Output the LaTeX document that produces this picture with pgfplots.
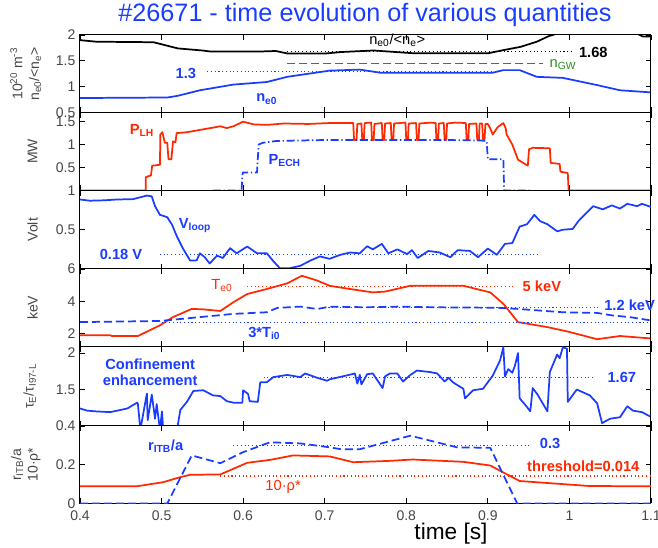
\documentclass[border=0pt]{standalone}
\usepackage{fontspec}
\setmainfont{Liberation Sans}
\usepackage{pgfplots}
\pgfplotsset{compat=1.18}
\definecolor{blueL}{RGB}{26,60,255}
\definecolor{redL}{RGB}{255,40,0}
\definecolor{greenL}{RGB}{40,140,30}
\definecolor{tickgray}{RGB}{70,70,70}
\tikzset{
  lab/.style={font=\fontsize{11}{12}\selectfont\bfseries},
  labr/.style={font=\fontsize{11}{12}\selectfont},
}
\pgfplotsset{
  panel/.style={
    scale only axis, width=428.25pt, anchor=north west,
    xmin=0.4, xmax=1.1,
    xtick={0.4,0.5,0.6,0.7,0.8,0.9,1.0,1.1}, xticklabels={},
    tick align=inside, major tick length=4pt,
    tick style={black, line width=0.6pt},
    axis line style={line width=0.75pt},
    clip mode=individual,
    yticklabel style={font=\fontsize{10.5}{12}\selectfont, text=tickgray},
    xticklabel style={font=\fontsize{10.5}{12}\selectfont, text=tickgray, yshift=-2pt},
    ylabel style={font=\fontsize{10.5}{12.5}\selectfont, text=tickgray,
      at={(axis description cs:-0.083,0.5)}, anchor=center, align=center},
    every axis plot/.append style={line width=1.3pt, line join=round},
  },
  dots/.style={line width=0.8pt, dash pattern=on 0.8pt off 2pt},
  dash/.style={dash pattern=on 6pt off 3pt},
}
\begin{document}
\begin{tikzpicture}
\useasboundingbox (0,0) rectangle (493.5pt,411pt);
\node[text=blueL, font=\fontsize{18.9}{22}\selectfont] at (273.75pt,399.75pt) {\#26671 - time evolution of various quantities};

% panel 1: density
\begin{axis}[panel, at={(60pt,384.75pt)}, height=58.125pt,
  ymin=0.5, ymax=2, ytick={0.5,1,1.5,2}, yticklabels={0.5,1,1.5,2},
  ylabel={10\textsuperscript{20} m\textsuperscript{-3}\\n\textsubscript{e0}/<n\textsubscript{e}>},
  ylabel style={at={(axis description cs:-0.095,0.5)}}]
\addplot[black] coordinates {(0.4,1.90)(0.42,1.87)(0.49,1.86)(0.51,1.78)(0.52,1.74)(0.55,1.70)(0.56,1.68)(0.59,1.68)(0.62,1.68)(0.64,1.69)(0.655,1.64)(0.70,1.64)(0.72,1.67)(0.76,1.70)(0.81,1.645)(0.90,1.645)(0.92,1.71)(0.94,1.77)(0.96,1.87)(0.975,1.98)(0.99,2.05)(1.08,2.05)(1.09,1.97)(1.1,1.97)};
\addplot[black, dots] coordinates {(0.654,1.68)(1.005,1.68)};
\addplot[greenL, dash] coordinates {(0.654,1.45)(0.968,1.45)};
\addplot[blueL] coordinates {(0.4,0.78)(0.507,0.79)(0.519,0.82)(0.547,0.93)(0.588,1.04)(0.629,1.09)(0.654,1.19)(0.706,1.31)(0.743,1.33)(0.768,1.27)(0.906,1.27)(0.919,1.32)(0.939,1.32)(0.96,1.19)(0.992,1.17)(1.034,1.03)(1.062,0.93)(1.099,0.89)};
\addplot[blueL, dots] coordinates {(0.556,1.3)(0.906,1.3)};
\node[labr] at (axis cs:0.789,1.90) {n\textsubscript{e0}/<n\textsubscript{e}>};
\node[lab, anchor=west] at (axis cs:1.006,1.67) {1.68};
\node[labr, text=greenL, anchor=west] at (axis cs:0.970,1.42) {n\textsubscript{GW}};
\node[lab, text=blueL, anchor=east] at (axis cs:0.548,1.26) {1.3};
\node[lab, text=blueL] at (axis cs:0.629,0.76) {n\textsubscript{e0}};
\end{axis}

% panel 2: power
\begin{axis}[panel, at={(60pt,326.625pt)}, height=58.5pt,
  ymin=0, ymax=1.7, ytick={0,0.5,1,1.5}, yticklabels={,0.5,1,1.5},
  ylabel={MW}]
\addplot[redL] coordinates {(0.4,0)(0.4805,0)(0.4805,0.29)(0.487,0.33)(0.4885,0.54)(0.498,0.56)(0.4985,1.22)(0.501,1.27)(0.504,1.04)(0.507,1.04)(0.5085,0.68)(0.512,0.68)(0.514,1.07)(0.517,1.05)(0.5185,1.25)(0.531,1.27)(0.547,1.32)(0.563,1.37)(0.572,1.40)(0.58,1.36)(0.588,1.40)(0.600,1.50)(0.613,1.44)(0.629,1.43)(0.65,1.46)(0.68,1.45)(0.706,1.47)(0.72,1.47)
(0.735,1.47)(0.736,1.10)(0.739,1.10)(0.740,1.45)(0.745,1.46)(0.746,1.12)(0.748,1.12)(0.749,1.47)(0.757,1.48)(0.758,1.10)(0.760,1.10)(0.761,1.45)(0.770,1.47)(0.771,1.10)(0.773,1.10)(0.774,1.46)(0.781,1.47)(0.782,1.10)(0.784,1.10)(0.785,1.46)(0.799,1.48)(0.800,1.10)(0.802,1.10)(0.803,1.46)(0.812,1.47)(0.813,1.10)(0.815,1.10)(0.816,1.46)(0.830,1.48)(0.836,1.47)(0.837,1.10)(0.839,1.10)(0.840,1.46)(0.846,1.47)(0.847,1.10)(0.849,1.10)(0.850,1.46)(0.860,1.48)(0.873,1.47)(0.874,1.10)(0.876,1.10)(0.877,1.45)(0.886,1.46)(0.887,1.10)(0.889,1.10)(0.890,1.46)(0.893,1.46)(0.894,1.12)(0.896,1.12)(0.897,1.45)(0.900,1.45)(0.903,1.35)(0.906,1.22)(0.912,1.38)(0.919,1.47)(0.922,1.35)(0.923,1.22)(0.93,1.0)(0.937,0.67)(0.949,0.54)(0.9505,0.9)(0.955,0.93)(0.976,0.92)(0.977,0.60)(0.988,0.58)(0.989,0.41)(0.998,0.38)(0.999,0)(1.1,0)};
\addplot[blueL, dash pattern=on 6pt off 2pt on 1pt off 2pt] coordinates {(0.563,0)(0.598,0)(0.5995,0.39)(0.617,0.39)(0.619,1.0)(0.624,1.04)(0.641,1.08)(0.70,1.10)(0.75,1.10)(0.80,1.10)(0.85,1.10)(0.89,1.09)(0.8985,1.08)(0.9,0.68)(0.919,0.68)(0.92,0)(0.954,0)};
\node[lab, text=redL] at (axis cs:0.476,1.31) {P\textsubscript{LH}};
\node[lab, text=blueL] at (axis cs:0.651,0.65) {P\textsubscript{ECH}};
\end{axis}

% panel 3: loop voltage
\begin{axis}[panel, at={(60pt,268.125pt)}, height=58.875pt,
  ymin=0, ymax=1, ytick={0,0.5,1}, yticklabels={,0.5,1},
  ylabel={Volt}]
\addplot[blueL] coordinates {(0.4,0.885)(0.412,0.87)(0.43,0.875)(0.445,0.885)(0.465,0.89)(0.482,0.935)(0.488,0.925)(0.492,0.80)(0.498,0.69)(0.507,0.66)(0.513,0.56)(0.519,0.41)(0.526,0.265)(0.535,0.107)(0.543,0.11)(0.547,0.2)(0.553,0.15)(0.559,0.07)(0.568,0.17)(0.575,0.14)(0.584,0.265)(0.592,0.20)(0.605,0.286)(0.617,0.20)(0.629,0.2)(0.637,0.10)(0.645,0.01)(0.657,0.01)(0.670,0.04)(0.682,0.105)(0.694,0.16)(0.706,0.13)(0.719,0.18)(0.731,0.21)(0.743,0.20)(0.752,0.29)(0.759,0.25)(0.770,0.32)(0.778,0.20)(0.789,0.25)(0.801,0.19)(0.807,0.24)(0.814,0.14)(0.827,0.23)(0.841,0.21)(0.854,0.15)(0.863,0.24)(0.878,0.23)(0.888,0.15)(0.900,0.26)(0.911,0.18)(0.921,0.32)(0.930,0.33)(0.939,0.54)(0.948,0.57)(0.957,0.69)(0.964,0.61)(0.973,0.57)(0.985,0.48)(0.992,0.50)(1.004,0.51)(1.011,0.61)(1.029,0.80)(1.041,0.76)(1.052,0.81)(1.062,0.77)(1.071,0.83)(1.083,0.80)(1.089,0.83)(1.1,0.79)};
\addplot[blueL, dots] coordinates {(0.498,0.18)(0.964,0.18)};
\node[lab, text=blueL] at (axis cs:0.541,0.55) {V\textsubscript{loop}};
\node[lab, text=blueL, anchor=east] at (axis cs:0.482,0.19) {0.18 V};
\end{axis}

% panel 4: temperatures
\begin{axis}[panel, at={(60pt,209.25pt)}, height=58.125pt,
  ymin=1.2, ymax=6, ytick={2,4,6}, yticklabels={2,4,6},
  ylabel={keV}]
\addplot[redL] coordinates {(0.4,1.9)(0.437,1.9)(0.439,1.85)(0.471,1.85)(0.498,2.51)(0.514,3.02)(0.537,3.53)(0.551,3.5)(0.572,3.4)(0.588,3.94)(0.605,4.45)(0.629,4.76)(0.654,5.11)(0.672,5.58)(0.691,5.28)(0.706,4.96)(0.731,4.76)(0.759,4.55)(0.774,4.6)(0.805,4.96)(0.870,4.96)(0.903,4.55)(0.919,3.84)(0.937,2.71)(0.973,2.4)(1.0,2.1)(1.034,1.65)(1.062,1.85)(1.099,1.7)};
\addplot[redL, dots] coordinates {(0.605,4.9)(0.933,4.9)};
\addplot[blueL, dots] coordinates {(0.5,2.7)(1.1,2.7)};
\addplot[blueL, dots] coordinates {(0.70,3.6)(1.037,3.6)};
\addplot[blueL, dash] coordinates {(0.4,2.71)(0.498,2.78)(0.547,3.02)(0.588,3.22)(0.629,3.32)(0.642,3.59)(0.670,3.67)(0.691,3.52)(0.706,3.67)(0.75,3.63)(0.789,3.67)(0.85,3.62)(0.911,3.60)(0.936,3.53)(0.992,3.32)(1.034,3.28)(1.053,3.12)(1.074,3.02)(1.099,2.82)};
\node[labr, text=redL] at (axis cs:0.574,4.96) {T\textsubscript{e0}};
\node[lab, text=redL, anchor=west] at (axis cs:0.937,4.96) {5 keV};
\node[lab, text=blueL, anchor=west] at (axis cs:1.037,3.74) {1.2 keV};
\node[lab, text=blueL] at (axis cs:0.626,2.02) {3*T\textsubscript{i0}};
\end{axis}

% panel 5: confinement
\begin{axis}[panel, at={(60pt,151.125pt)}, height=59.625pt,
  ymin=1, ymax=2.09, ytick={1,1.5,2}, yticklabels={,1.5,2},
  ylabel={τ\textsubscript{E}/τ\textsubscript{I97-L}},
  ylabel style={at={(axis description cs:-0.088,0.5)}}]
\addplot[blueL] coordinates {(0.4,1.24)(0.409,1.21)(0.42,1.20)(0.437,1.19)(0.458,1.24)(0.470,1.32)(0.471,1.30)(0.474,0.95)(0.482,1.445)(0.483,1.08)(0.488,1.43)(0.492,1.10)(0.494,1.30)(0.498,0.95)(0.5005,1.20)(0.502,0.95)(0.519,0.95)(0.523,1.22)(0.531,1.33)(0.539,1.48)(0.551,1.49)(0.563,1.42)(0.572,1.41)(0.580,1.34)(0.588,1.32)(0.599,1.32)(0.600,1.49)(0.606,1.44)(0.608,1.34)(0.618,1.33)(0.621,1.60)(0.629,1.60)(0.637,1.67)(0.654,1.70)(0.670,1.67)(0.676,1.72)(0.691,1.66)(0.703,1.62)(0.706,1.64)(0.722,1.68)(0.737,1.72)(0.740,1.58)(0.743,1.70)(0.745,1.57)(0.752,1.71)(0.759,1.72)(0.771,1.52)(0.774,1.68)(0.780,1.72)(0.789,1.72)(0.796,1.61)(0.805,1.70)(0.813,1.76)(0.829,1.74)(0.838,1.72)(0.847,1.61)(0.852,1.66)(0.857,1.60)(0.870,1.51)(0.872,1.38)(0.882,1.49)(0.894,1.51)(0.906,1.69)(0.915,1.90)(0.919,2.08)(0.921,1.68)(0.925,1.78)(0.930,1.73)(0.933,1.82)(0.937,2.0)(0.939,1.38)(0.948,1.26)(0.952,1.20)(0.955,1.52)(0.961,1.43)(0.973,1.20)(0.976,1.74)(0.985,1.98)(0.988,1.93)(0.992,2.08)(0.997,2.06)(0.998,1.33)(1.009,1.50)(1.025,1.42)(1.034,1.31)(1.040,1.04)(1.050,1.10)(1.062,1.12)(1.071,1.27)(1.078,1.21)(1.089,1.19)(1.099,1.13)};
\addplot[blueL, dots] coordinates {(0.625,1.67)(1.03,1.67)};
\node[lab, text=blueL, align=center] at (axis cs:0.486,1.74) {Confinement\\enhancement};
\node[lab, text=blueL, anchor=west] at (axis cs:1.041,1.67) {1.67};
\end{axis}

% panel 6: ITB radius
\begin{axis}[panel, at={(60pt,91.5pt)}, height=58.125pt,
  ymin=0, ymax=0.4, ytick={0,0.2,0.4}, yticklabels={0,0.2,0.4},
  xticklabels={0.4,0.5,0.6,0.7,0.8,0.9,1,1.1},
  ylabel={r\textsubscript{ITB}/a\\10·ρ*},
  ylabel style={at={(axis description cs:-0.095,0.5)}}]
\addplot[redL] coordinates {(0.4,0.089)(0.47,0.089)(0.502,0.11)(0.523,0.136)(0.535,0.148)(0.572,0.15)(0.605,0.21)(0.633,0.225)(0.661,0.248)(0.706,0.243)(0.735,0.213)(0.780,0.22)(0.808,0.227)(0.870,0.215)(0.903,0.196)(0.919,0.16)(0.939,0.116)(1.025,0.09)(1.1,0.089)};
\addplot[redL, dots] coordinates {(0.572,0.142)(1.1,0.142)};
\addplot[blueL, dots] coordinates {(0.588,0.3)(0.952,0.3)};
\addplot[blueL, dash] coordinates {(0.4,0)(0.507,0)(0.537,0.248)(0.572,0.208)(0.600,0.265)(0.633,0.316)(0.670,0.31)(0.706,0.29)(0.72,0.28)(0.743,0.28)(0.805,0.35)(0.862,0.29)(0.903,0.287)(0.936,0)(1.1,0)};
\node[lab, text=blueL] at (axis cs:0.505,0.295) {r\textsubscript{ITB}/a};
\node[lab, text=blueL, anchor=west] at (axis cs:0.958,0.31) {0.3};
\node[lab, text=redL] at (axis cs:1.017,0.192) {threshold=0.014};
\node[labr, text=redL] at (axis cs:0.649,0.084) {10·ρ*};
\end{axis}
\node[font=\fontsize{17}{20}\selectfont] at (338.25pt,10.5pt) {time [s]};
\end{tikzpicture}
\end{document}
